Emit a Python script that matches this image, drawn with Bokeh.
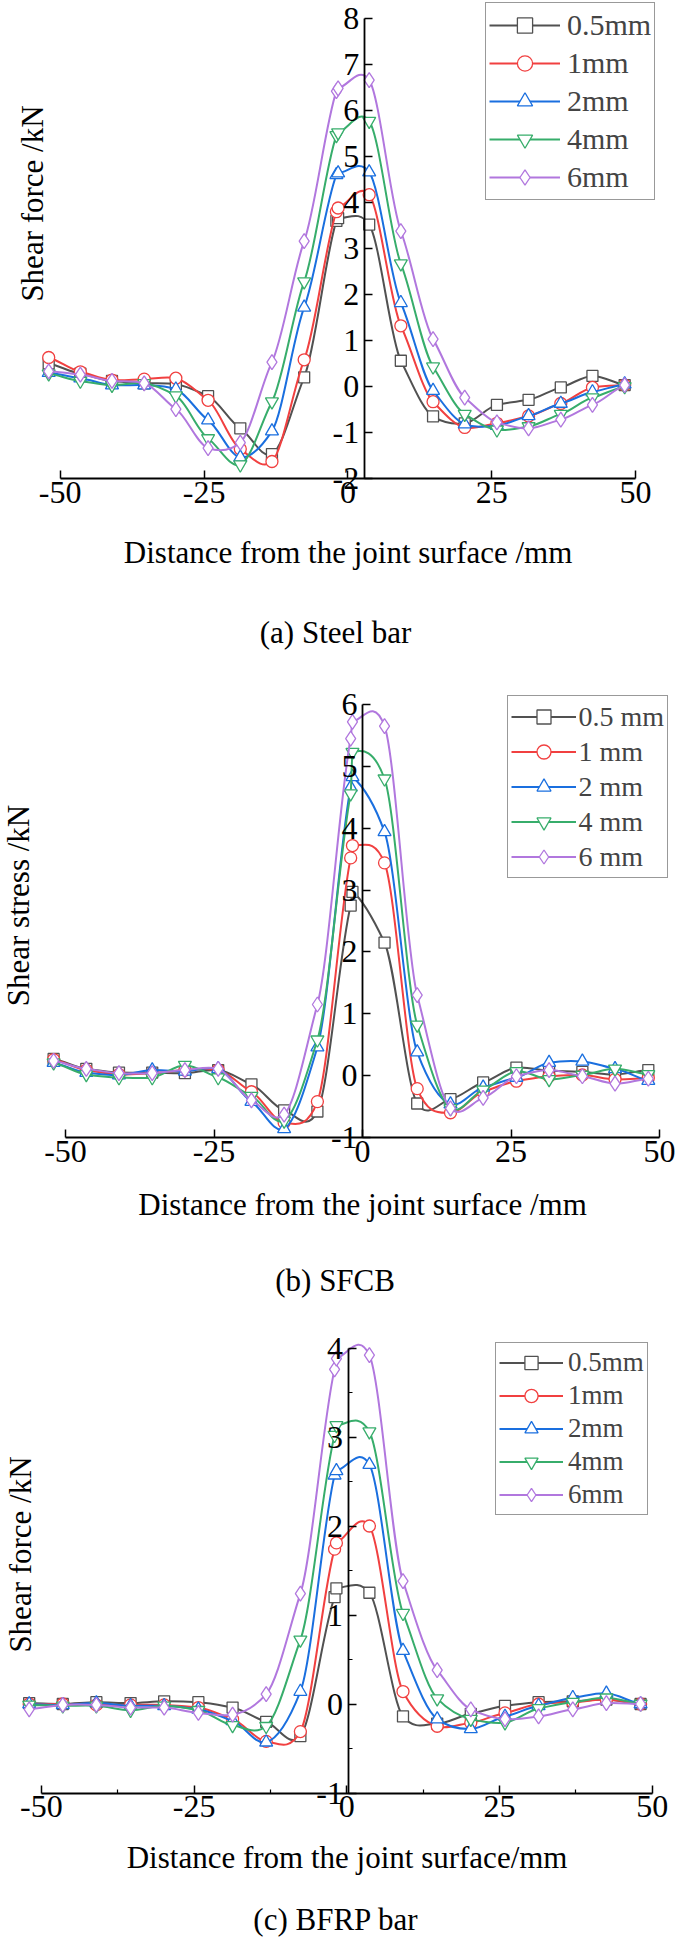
import math
from bokeh.plotting import figure
from bokeh.layouts import column
from bokeh.models import (Range1d, LinearAxis, FixedTicker, Label, Legend, LegendItem,
                          ColumnDataSource, CustomJSTickFormatter)
from bokeh.embed import file_html
from bokeh.resources import INLINE

# ---------------- data ----------------
x_pos = [-52.0, -46.5, -41.0, -35.4, -29.9, -24.3, -18.7, -13.2, -7.6, -2.0, -1.7,
         3.7, 9.2, 14.8, 20.3, 25.9, 31.4, 37.0, 42.5, 48.1]

series_names_a = ["0.5mm", "1mm", "2mm", "4mm", "6mm"]
series_names_b = ["0.5 mm", "1 mm", "2 mm", "4 mm", "6 mm"]
series_names_c = ["0.5mm", "1mm", "2mm", "4mm", "6mm"]

# (a) Steel bar
a_05 = [0.50, 0.28, 0.12, 0.07, 0.05, -0.21, -0.91, -1.47, 0.20, 3.60, 3.66, 3.52, 0.56, -0.65, -0.80, -0.40, -0.29, -0.02, 0.23, 0.03]
a_1 = [0.63, 0.32, 0.14, 0.16, 0.18, -0.30, -1.36, -1.63, 0.58, 3.80, 3.88, 4.17, 1.32, -0.33, -0.89, -0.80, -0.64, -0.37, -0.02, 0.03]
a_2 = [0.30, 0.18, 0.03, 0.03, -0.06, -0.73, -1.54, -0.97, 1.72, 4.60, 4.64, 4.66, 1.82, -0.09, -0.82, -0.85, -0.64, -0.37, -0.12, 0.05]
a_4 = [0.28, 0.12, 0.03, 0.07, -0.20, -1.13, -1.70, -0.33, 2.28, 5.46, 5.52, 5.77, 2.67, 0.43, -0.60, -0.94, -0.87, -0.60, -0.24, 0.00]
a_6 = [0.33, 0.26, 0.12, 0.07, -0.49, -1.34, -1.22, 0.53, 3.16, 6.42, 6.48, 6.66, 3.38, 1.03, -0.24, -0.78, -0.91, -0.72, -0.40, 0.03]

# (b) SFCB
b_05 = [0.27, 0.11, 0.05, 0.05, 0.04, 0.09, -0.14, -0.56, -0.58, 2.75, 2.97, 2.15, -0.45, -0.38, -0.11, 0.13, 0.08, 0.06, 0.02, 0.09]
b_1 = [0.26, 0.09, 0.02, 0.04, 0.09, 0.09, -0.26, -0.76, -0.42, 3.52, 3.72, 3.44, -0.21, -0.60, -0.26, -0.09, -0.01, 0.01, -0.06, -0.04]
b_2 = [0.21, 0.05, 0.01, 0.09, 0.07, 0.11, -0.42, -0.86, 0.46, 4.66, 4.83, 3.94, 0.38, -0.46, -0.19, -0.03, 0.21, 0.23, 0.11, -0.08]
b_4 = [0.21, 0.02, -0.03, -0.03, 0.17, -0.03, -0.33, -0.73, 0.58, 4.56, 5.23, 4.80, 0.82, -0.53, -0.23, 0.07, -0.06, 0.01, 0.11, 0.02]
b_6 = [0.24, 0.11, 0.04, 0.04, 0.09, 0.11, -0.40, -0.63, 1.15, 5.45, 5.72, 5.65, 1.30, -0.53, -0.36, -0.01, 0.09, -0.01, -0.13, -0.05]

# (c) BFRP bar
c_05 = [0.01, 0.00, 0.02, 0.01, 0.03, 0.02, -0.04, -0.20, -0.36, 1.20, 1.30, 1.25, -0.14, -0.22, -0.11, -0.02, 0.02, 0.03, 0.05, 0.00]
c_1 = [0.00, 0.00, -0.01, -0.01, -0.01, -0.04, -0.17, -0.42, -0.31, 1.74, 1.81, 2.00, 0.14, -0.25, -0.21, -0.10, 0.00, 0.02, 0.05, 0.00]
c_2 = [0.00, -0.01, 0.01, -0.02, -0.02, -0.06, -0.19, -0.43, 0.14, 2.57, 2.62, 2.69, 0.60, -0.17, -0.28, -0.14, -0.02, 0.07, 0.12, 0.00]
c_4 = [-0.01, -0.02, -0.02, -0.07, -0.02, -0.07, -0.24, -0.25, 0.72, 3.02, 3.13, 3.06, 1.02, 0.06, -0.17, -0.21, -0.05, 0.02, 0.07, 0.00]
c_6 = [-0.06, -0.01, -0.01, -0.04, -0.04, -0.10, -0.12, 0.11, 1.24, 3.76, 3.88, 3.92, 1.38, 0.38, -0.06, -0.17, -0.14, -0.06, 0.01, 0.00]

x_ticks = [-50, -25, 0, 25, 50]
y_ticks_a = [-2, -1, 0, 1, 2, 3, 4, 5, 6, 7, 8]
y_ticks_b = [-1, 0, 1, 2, 3, 4, 5, 6]
y_ticks_c = [-1, 0, 1, 2, 3, 4]
x_minor_c = [-37.5, -12.5, 12.5, 37.5]
y_minor_c = [-0.5, 0.5, 1.5, 2.5, 3.5]

# ---------------- style ----------------
COLORS = ["#515151", "#F14040", "#1A6FDF", "#37AD6B", "#B177DE"]
MARKERS = ["square", "circle", "triangle", "inverted_triangle", "diamond"]
MSIZES = [11, 12, 13, 13, 15]
FONT = "Liberation Serif"
TICK_FS = "32px"
TITLE_FS = "31px"
W = 677
OFF = 8
TANGENT_SCALE = 0.65
PLAIN = CustomJSTickFormatter(code="return String(tick);")


def smooth_segments(xs, ys):
    """Cubic Hermite (spline-connect) segments through the data points, as Bezier controls."""
    n = len(xs)
    m = []
    for i in range(n):
        if i == 0:
            s = (ys[1] - ys[0]) / (xs[1] - xs[0])
        elif i == n - 1:
            s = (ys[-1] - ys[-2]) / (xs[-1] - xs[-2])
        else:
            s = (ys[i + 1] - ys[i - 1]) / (xs[i + 1] - xs[i - 1])
        m.append(s * TANGENT_SCALE)
    seg = dict(x0=[], y0=[], x1=[], y1=[], cx0=[], cy0=[], cx1=[], cy1=[])
    for i in range(n - 1):
        h = xs[i + 1] - xs[i]
        seg["x0"].append(xs[i]); seg["y0"].append(ys[i])
        seg["x1"].append(xs[i + 1]); seg["y1"].append(ys[i + 1])
        seg["cx0"].append(xs[i] + h / 3); seg["cy0"].append(ys[i] + m[i] * h / 3)
        seg["cx1"].append(xs[i + 1] - h / 3); seg["cy1"].append(ys[i + 1] - m[i + 1] * h / 3)
    return seg


def build_panel(top, height, xcal, ycal, yaxis_at, yticks, ybounds, series, names,
                ytitle, xtitle, caption, title_pos, leg, minor=None):
    xv1, xp1, xv2, xp2 = xcal
    kx = (xp2 - xp1) / (xv2 - xv1)
    x0 = xv1 - (xp1 - OFF) / kx
    x1 = x0 + W / kx
    yv1, yp1, yv2, yp2 = ycal
    ky = (yp2 - yp1) / (yv1 - yv2)
    ytop = yv1 + (yp1 - top) / ky
    ybot = ytop - height / ky

    def d(px, py):
        return x0 + (px - OFF) / kx, ytop - (py - top) / ky

    p = figure(width=W, height=height, x_range=Range1d(x0, x1), y_range=Range1d(ybot, ytop),
               x_axis_type=None, y_axis_type=None, toolbar_location=None,
               output_backend="svg", min_border=0, outline_line_color=None)
    p.background_fill_color = "white"
    p.border_fill_color = "white"

    xt = FixedTicker(ticks=x_ticks, minor_ticks=(minor[0] if minor else []))
    xa = LinearAxis(ticker=xt, fixed_location=ybounds[0], bounds=(-50, 50), formatter=PLAIN)
    yt = FixedTicker(ticks=yticks, minor_ticks=(minor[1] if minor else []))
    ya = LinearAxis(ticker=yt, fixed_location=yaxis_at, bounds=ybounds, formatter=PLAIN)
    for ax in (xa, ya):
        ax.axis_line_color = "black"
        ax.axis_line_width = 1.8
        ax.major_tick_line_color = "black"
        ax.major_tick_line_width = 1.5
        ax.major_tick_in = 8
        ax.major_tick_out = 0
        ax.minor_tick_line_color = "black" if minor else None
        ax.minor_tick_line_width = 1.2
        ax.minor_tick_in = 4
        ax.minor_tick_out = 0
        ax.major_label_text_font = FONT
        ax.major_label_text_font_size = TICK_FS
        ax.major_label_text_color = "black"
    xa.major_label_standoff = 3
    ya.major_label_standoff = 5
    p.add_layout(xa, "below")
    p.add_layout(ya, "left")

    items = []
    nan = float("nan")
    for i, (ys, nm) in enumerate(zip(series, names)):
        src = ColumnDataSource(dict(x=x_pos, y=ys))
        seg = ColumnDataSource(smooth_segments(x_pos, ys))
        p.bezier(x0="x0", y0="y0", x1="x1", y1="y1", cx0="cx0", cy0="cy0", cx1="cx1", cy1="cy1",
                 source=seg, line_color=COLORS[i], line_width=2)
        key = p.line(x=[nan], y=[nan], line_color=COLORS[i], line_width=2)
        mk = p.scatter(x="x", y="y", source=src, marker=MARKERS[i], size=MSIZES[i],
                       line_color=COLORS[i], line_width=1.3, fill_color="white")
        items.append(LegendItem(label=nm, renderers=[key, mk]))

    lx, ltop, lfont, lrow, lglyph, lstand = leg
    pad = 3
    lh = 2 * pad + 5 * lrow
    legend = Legend(items=items, location=(lx - OFF, height - (ltop - top) - lh),
                    label_text_font=FONT, label_text_font_size=lfont,
                    label_height=int(round(lrow)), glyph_height=int(round(lrow)),
                    glyph_width=lglyph, label_standoff=lstand, spacing=0, padding=pad,
                    margin=0, border_line_color="#333333", border_line_width=1,
                    background_fill_color="white", background_fill_alpha=1)
    p.add_layout(legend, "center")

    (ytx, yty), (xtx, xty), (cx, cy) = title_pos
    for txt, (px, py), ang in ((ytitle, (ytx, yty), math.pi / 2), (xtitle, (xtx, xty), 0),
                               (caption, (cx, cy), 0)):
        dx, dy = d(px, py)
        p.add_layout(Label(x=dx, y=dy, text=txt, text_font=FONT, text_font_size=TITLE_FS,
                           text_align="center", text_baseline="middle", angle=ang,
                           text_color="black"))
    return p


pa = build_panel(8, 660, (-50, 67.7, 50, 643.1), (8, 26.0, -2, 486), 2.83, y_ticks_a, (-2, 8),
                 [a_05, a_1, a_2, a_4, a_6], series_names_a,
                 "Shear force /kN", "Distance from the joint surface /mm", "(a) Steel bar",
                 ((40.4, 211), (355.6, 560), (343, 640)),
                 (493, 14, "30px", 37.6, 71, 7))
pb = build_panel(668, 642, (-50, 73, 50, 667.1), (6, 712, -1, 1145), 0.0, y_ticks_b, (-1, 6),
                 [b_05, b_1, b_2, b_4, b_6], series_names_b,
                 "Shear stress /kN", "Distance from the joint surface /mm", "(b) SFCB",
                 ((26, 913), (370, 1211.5), (342.6, 1288)),
                 (514.6, 706, "28px", 34.8, 65, 3))
pc = build_panel(1310, 636, (-50, 48.9, 50, 659.7), (4, 1355.5, -1, 1800.5), 0.2, y_ticks_c, (-1, 4),
                 [c_05, c_1, c_2, c_4, c_6], series_names_c,
                 "Shear force /kN", "Distance from the joint surface/mm", "(c) BFRP bar",
                 ((27.7, 1562), (354.6, 1865), (343.5, 1927)),
                 (503, 1350.6, "27px", 33.3, 64, 5),
                 minor=(x_minor_c, y_minor_c))

layout = column(pa, pb, pc, spacing=0)
open("out.html", "w").write(file_html(layout, INLINE))
